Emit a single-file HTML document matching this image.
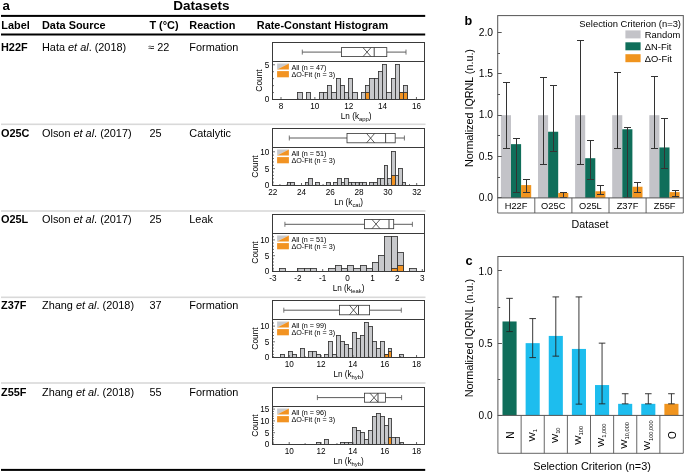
<!DOCTYPE html>
<html><head><meta charset="utf-8"><style>
html,body{margin:0;padding:0;background:#fff;}
svg{display:block;will-change:transform;}
text{font-family:"Liberation Sans", sans-serif;}
</style></head><body>
<svg width="685" height="473" viewBox="0 0 685 473" font-family='"Liberation Sans", sans-serif'>
<rect width="685" height="473" fill="#fff"/>
<text x="2.6" y="10.0" font-size="13.2" font-weight="bold" fill="#000">a</text>
<text x="201.3" y="10.4" font-size="13.5" font-weight="bold" text-anchor="middle" fill="#000">Datasets</text>
<rect x="1.00" y="14.90" width="424.20" height="2.00" fill="#000"/>
<text x="1.3" y="29.4" font-size="10.9" font-weight="bold" fill="#000">Label</text>
<text x="42" y="29.4" font-size="10.9" font-weight="bold" fill="#000">Data Source</text>
<text x="149.4" y="29.4" font-size="10.9" font-weight="bold" fill="#000">T (°C)</text>
<text x="189.3" y="29.4" font-size="10.9" font-weight="bold" fill="#000">Reaction</text>
<text x="256.8" y="29.4" font-size="10.9" font-weight="bold" fill="#000">Rate-Constant Histogram</text>
<rect x="1.00" y="33.50" width="424.20" height="2.00" fill="#000"/>
<rect x="1.00" y="468.90" width="424.20" height="2.00" fill="#000"/>
<rect x="1.00" y="123.50" width="424.50" height="1.60" fill="#d9d9d9"/>
<rect x="1.00" y="210.20" width="424.50" height="1.60" fill="#d9d9d9"/>
<rect x="1.00" y="296.50" width="424.50" height="1.60" fill="#d9d9d9"/>
<rect x="1.00" y="382.20" width="424.50" height="1.60" fill="#d9d9d9"/>
<text x="1.0" y="51.2" font-size="10.9" font-weight="bold" fill="#000">H22F</text>
<text x="42" y="51.2" font-size="10.9">Hata <tspan font-style="italic">et al</tspan>. (2018)</text>
<text x="148.6" y="51.2" font-size="10.9" fill="#000">≈</text>
<text x="157.2" y="51.2" font-size="10.9" fill="#000">22</text>
<text x="189.3" y="51.2" font-size="10.9" fill="#000">Formation</text>
<text x="1.0" y="137.0" font-size="10.9" font-weight="bold" fill="#000">O25C</text>
<text x="42" y="137.0" font-size="10.9">Olson <tspan font-style="italic">et al</tspan>. (2017)</text>
<text x="149.4" y="137.0" font-size="10.9" fill="#000">25</text>
<text x="189.3" y="137.0" font-size="10.9" fill="#000">Catalytic</text>
<text x="1.0" y="222.7" font-size="10.9" font-weight="bold" fill="#000">O25L</text>
<text x="42" y="222.7" font-size="10.9">Olson <tspan font-style="italic">et al</tspan>. (2017)</text>
<text x="149.4" y="222.7" font-size="10.9" fill="#000">25</text>
<text x="189.3" y="222.7" font-size="10.9" fill="#000">Leak</text>
<text x="1.0" y="309.2" font-size="10.9" font-weight="bold" fill="#000">Z37F</text>
<text x="42" y="309.2" font-size="10.9">Zhang <tspan font-style="italic">et al</tspan>. (2018)</text>
<text x="149.4" y="309.2" font-size="10.9" fill="#000">37</text>
<text x="189.3" y="309.2" font-size="10.9" fill="#000">Formation</text>
<text x="1.0" y="396.2" font-size="10.9" font-weight="bold" fill="#000">Z55F</text>
<text x="42" y="396.2" font-size="10.9">Zhang <tspan font-style="italic">et al</tspan>. (2018)</text>
<text x="149.4" y="396.2" font-size="10.9" fill="#000">55</text>
<text x="189.3" y="396.2" font-size="10.9" fill="#000">Formation</text>
<rect x="297.50" y="92.50" width="5.00" height="7.00" fill="#c8c9cc" stroke="#333" stroke-width="0.85"/>
<rect x="306.50" y="92.50" width="4.00" height="7.00" fill="#c8c9cc" stroke="#333" stroke-width="0.85"/>
<rect x="319.50" y="92.50" width="4.00" height="7.00" fill="#c8c9cc" stroke="#333" stroke-width="0.85"/>
<rect x="323.50" y="92.50" width="4.00" height="7.00" fill="#c8c9cc" stroke="#333" stroke-width="0.85"/>
<rect x="327.50" y="85.50" width="4.00" height="14.00" fill="#c8c9cc" stroke="#333" stroke-width="0.85"/>
<rect x="331.50" y="92.50" width="5.00" height="7.00" fill="#c8c9cc" stroke="#333" stroke-width="0.85"/>
<rect x="336.50" y="78.50" width="4.00" height="21.00" fill="#c8c9cc" stroke="#333" stroke-width="0.85"/>
<rect x="340.50" y="85.50" width="4.00" height="14.00" fill="#c8c9cc" stroke="#333" stroke-width="0.85"/>
<rect x="344.50" y="92.50" width="4.00" height="7.00" fill="#c8c9cc" stroke="#333" stroke-width="0.85"/>
<rect x="348.50" y="78.50" width="4.00" height="21.00" fill="#c8c9cc" stroke="#333" stroke-width="0.85"/>
<rect x="352.50" y="92.50" width="5.00" height="7.00" fill="#c8c9cc" stroke="#333" stroke-width="0.85"/>
<rect x="361.50" y="92.50" width="4.00" height="7.00" fill="#c8c9cc" stroke="#333" stroke-width="0.85"/>
<rect x="365.50" y="85.50" width="4.00" height="14.00" fill="#c8c9cc" stroke="#333" stroke-width="0.85"/>
<rect x="365.50" y="92.50" width="4.00" height="7.00" fill="#f29322" stroke="#333" stroke-width="0.85"/>
<rect x="369.50" y="78.50" width="5.00" height="21.00" fill="#c8c9cc" stroke="#333" stroke-width="0.85"/>
<rect x="374.50" y="78.50" width="4.00" height="21.00" fill="#c8c9cc" stroke="#333" stroke-width="0.85"/>
<rect x="378.50" y="71.50" width="4.00" height="28.00" fill="#c8c9cc" stroke="#333" stroke-width="0.85"/>
<rect x="382.50" y="64.50" width="4.00" height="35.00" fill="#c8c9cc" stroke="#333" stroke-width="0.85"/>
<rect x="386.50" y="92.50" width="5.00" height="7.00" fill="#c8c9cc" stroke="#333" stroke-width="0.85"/>
<rect x="391.50" y="78.50" width="4.00" height="21.00" fill="#c8c9cc" stroke="#333" stroke-width="0.85"/>
<rect x="395.50" y="64.50" width="4.00" height="35.00" fill="#c8c9cc" stroke="#333" stroke-width="0.85"/>
<rect x="399.50" y="92.50" width="4.00" height="7.00" fill="#c8c9cc" stroke="#333" stroke-width="0.85"/>
<rect x="399.50" y="92.50" width="4.00" height="7.00" fill="#f29322" stroke="#333" stroke-width="0.85"/>
<rect x="403.50" y="85.50" width="4.00" height="14.00" fill="#c8c9cc" stroke="#333" stroke-width="0.85"/>
<rect x="403.50" y="92.50" width="4.00" height="7.00" fill="#f29322" stroke="#333" stroke-width="0.85"/>
<rect x="272.5" y="42.5" width="152.0" height="57.0" fill="none" stroke="#3a3a3a" stroke-width="1"/>
<line x1="272.5" y1="61.5" x2="424.5" y2="61.5" stroke="#3a3a3a" stroke-width="1"/>
<line x1="302.3" y1="52.1" x2="341.4" y2="52.1" stroke="#4a4a4a" stroke-width="0.9"/>
<line x1="386.8" y1="52.1" x2="406" y2="52.1" stroke="#4a4a4a" stroke-width="0.9"/>
<line x1="302.3" y1="49.6" x2="302.3" y2="54.6" stroke="#555" stroke-width="0.8"/>
<line x1="406" y1="49.6" x2="406" y2="54.6" stroke="#555" stroke-width="0.8"/>
<rect x="341.4" y="47.6" width="45.400000000000034" height="9.0" fill="#fff" stroke="#333" stroke-width="0.8"/>
<line x1="374.2" y1="47.6" x2="374.2" y2="56.6" stroke="#333" stroke-width="0.9"/>
<line x1="363.0" y1="47.6" x2="371.0" y2="56.6" stroke="#333" stroke-width="0.8"/>
<line x1="363.0" y1="56.6" x2="371.0" y2="47.6" stroke="#333" stroke-width="0.8"/>
<line x1="272.5" y1="99.5" x2="275.0" y2="99.5" stroke="#3a3a3a" stroke-width="0.7"/>
<line x1="272.5" y1="92.55" x2="274.0" y2="92.55" stroke="#3a3a3a" stroke-width="0.7"/>
<line x1="272.5" y1="85.6" x2="274.0" y2="85.6" stroke="#3a3a3a" stroke-width="0.7"/>
<line x1="272.5" y1="78.65" x2="274.0" y2="78.65" stroke="#3a3a3a" stroke-width="0.7"/>
<line x1="272.5" y1="71.7" x2="274.0" y2="71.7" stroke="#3a3a3a" stroke-width="0.7"/>
<line x1="272.5" y1="64.75" x2="275.0" y2="64.75" stroke="#3a3a3a" stroke-width="0.7"/>
<text x="269.3" y="102.4" font-size="8.2" text-anchor="end" fill="#000">0</text>
<text x="269.3" y="67.65" font-size="8.2" text-anchor="end" fill="#000">5</text>
<line x1="281.0" y1="99.5" x2="281.0" y2="97.0" stroke="#3a3a3a" stroke-width="0.8"/>
<text x="281.0" y="109.0" font-size="8.2" text-anchor="middle" fill="#000">8</text>
<line x1="314.86" y1="99.5" x2="314.86" y2="97.0" stroke="#3a3a3a" stroke-width="0.8"/>
<text x="314.86" y="109.0" font-size="8.2" text-anchor="middle" fill="#000">10</text>
<line x1="348.72" y1="99.5" x2="348.72" y2="97.0" stroke="#3a3a3a" stroke-width="0.8"/>
<text x="348.72" y="109.0" font-size="8.2" text-anchor="middle" fill="#000">12</text>
<line x1="382.58" y1="99.5" x2="382.58" y2="97.0" stroke="#3a3a3a" stroke-width="0.8"/>
<text x="382.58" y="109.0" font-size="8.2" text-anchor="middle" fill="#000">14</text>
<line x1="416.44" y1="99.5" x2="416.44" y2="97.0" stroke="#3a3a3a" stroke-width="0.8"/>
<text x="416.44" y="109.0" font-size="8.2" text-anchor="middle" fill="#000">16</text>
<line x1="297.93" y1="99.5" x2="297.93" y2="98.0" stroke="#3a3a3a" stroke-width="0.7"/>
<line x1="331.79" y1="99.5" x2="331.79" y2="98.0" stroke="#3a3a3a" stroke-width="0.7"/>
<line x1="365.65" y1="99.5" x2="365.65" y2="98.0" stroke="#3a3a3a" stroke-width="0.7"/>
<line x1="399.51" y1="99.5" x2="399.51" y2="98.0" stroke="#3a3a3a" stroke-width="0.7"/>
<text transform="translate(262.3 80.5) rotate(-90)" font-size="8.4" text-anchor="middle">Count</text>
<text x="356.2" y="118.8" font-size="8.2" text-anchor="middle">Ln (k<tspan font-size="5.9" dy="2.2">app</tspan><tspan dy="-2.2">)</tspan></text>
<polygon points="277.1,63.5 288.9,63.5 277.1,69.5" fill="#c8c9cc"/>
<polygon points="288.9,63.5 288.9,69.5 277.1,69.5" fill="#f29322"/>
<rect x="277.10" y="71.10" width="11.80" height="6.20" fill="#f29322"/>
<text x="291.4" y="69.7" font-size="7.2" fill="#000">All (n = 47)</text>
<text x="291.4" y="77.2" font-size="7.2" fill="#000">ΔO-Fit (n = 3)</text>
<rect x="287.50" y="182.50" width="3.00" height="3.00" fill="#c8c9cc" stroke="#333" stroke-width="0.85"/>
<rect x="290.50" y="182.50" width="4.00" height="3.00" fill="#c8c9cc" stroke="#333" stroke-width="0.85"/>
<rect x="305.50" y="182.50" width="3.00" height="3.00" fill="#c8c9cc" stroke="#333" stroke-width="0.85"/>
<rect x="308.50" y="178.50" width="4.00" height="7.00" fill="#c8c9cc" stroke="#333" stroke-width="0.85"/>
<rect x="315.50" y="182.50" width="4.00" height="3.00" fill="#c8c9cc" stroke="#333" stroke-width="0.85"/>
<rect x="326.50" y="182.50" width="4.00" height="3.00" fill="#c8c9cc" stroke="#333" stroke-width="0.85"/>
<rect x="333.50" y="182.50" width="4.00" height="3.00" fill="#c8c9cc" stroke="#333" stroke-width="0.85"/>
<rect x="337.50" y="178.50" width="4.00" height="7.00" fill="#c8c9cc" stroke="#333" stroke-width="0.85"/>
<rect x="341.50" y="182.50" width="3.00" height="3.00" fill="#c8c9cc" stroke="#333" stroke-width="0.85"/>
<rect x="344.50" y="178.50" width="4.00" height="7.00" fill="#c8c9cc" stroke="#333" stroke-width="0.85"/>
<rect x="348.50" y="182.50" width="3.00" height="3.00" fill="#c8c9cc" stroke="#333" stroke-width="0.85"/>
<rect x="351.50" y="182.50" width="4.00" height="3.00" fill="#c8c9cc" stroke="#333" stroke-width="0.85"/>
<rect x="355.50" y="182.50" width="4.00" height="3.00" fill="#c8c9cc" stroke="#333" stroke-width="0.85"/>
<rect x="359.50" y="182.50" width="3.00" height="3.00" fill="#c8c9cc" stroke="#333" stroke-width="0.85"/>
<rect x="362.50" y="182.50" width="4.00" height="3.00" fill="#c8c9cc" stroke="#333" stroke-width="0.85"/>
<rect x="369.50" y="182.50" width="4.00" height="3.00" fill="#c8c9cc" stroke="#333" stroke-width="0.85"/>
<rect x="373.50" y="182.50" width="4.00" height="3.00" fill="#c8c9cc" stroke="#333" stroke-width="0.85"/>
<rect x="377.50" y="178.50" width="3.00" height="7.00" fill="#c8c9cc" stroke="#333" stroke-width="0.85"/>
<rect x="380.50" y="178.50" width="4.00" height="7.00" fill="#c8c9cc" stroke="#333" stroke-width="0.85"/>
<rect x="384.50" y="165.50" width="3.00" height="20.00" fill="#c8c9cc" stroke="#333" stroke-width="0.85"/>
<rect x="387.50" y="178.50" width="4.00" height="7.00" fill="#c8c9cc" stroke="#333" stroke-width="0.85"/>
<rect x="391.50" y="151.50" width="4.00" height="34.00" fill="#c8c9cc" stroke="#333" stroke-width="0.85"/>
<rect x="391.50" y="175.50" width="4.00" height="10.00" fill="#f29322" stroke="#333" stroke-width="0.85"/>
<rect x="395.50" y="175.50" width="3.00" height="10.00" fill="#c8c9cc" stroke="#333" stroke-width="0.85"/>
<rect x="398.50" y="168.50" width="4.00" height="17.00" fill="#c8c9cc" stroke="#333" stroke-width="0.85"/>
<rect x="402.50" y="182.50" width="3.00" height="3.00" fill="#c8c9cc" stroke="#333" stroke-width="0.85"/>
<rect x="272.5" y="128.5" width="152.0" height="57.0" fill="none" stroke="#3a3a3a" stroke-width="1"/>
<line x1="272.5" y1="147.5" x2="424.5" y2="147.5" stroke="#3a3a3a" stroke-width="1"/>
<line x1="289.3" y1="138" x2="347" y2="138" stroke="#4a4a4a" stroke-width="0.9"/>
<line x1="395.2" y1="138" x2="404.4" y2="138" stroke="#4a4a4a" stroke-width="0.9"/>
<line x1="289.3" y1="135.5" x2="289.3" y2="140.5" stroke="#555" stroke-width="0.8"/>
<line x1="404.4" y1="135.5" x2="404.4" y2="140.5" stroke="#555" stroke-width="0.8"/>
<rect x="347" y="133.5" width="48.19999999999999" height="9.300000000000011" fill="#fff" stroke="#333" stroke-width="0.8"/>
<line x1="385.6" y1="133.5" x2="385.6" y2="142.8" stroke="#333" stroke-width="0.9"/>
<line x1="366.6" y1="133.5" x2="374.6" y2="142.8" stroke="#333" stroke-width="0.8"/>
<line x1="366.6" y1="142.8" x2="374.6" y2="133.5" stroke="#333" stroke-width="0.8"/>
<line x1="272.5" y1="185.5" x2="275.0" y2="185.5" stroke="#3a3a3a" stroke-width="0.7"/>
<line x1="272.5" y1="182.13" x2="274.0" y2="182.13" stroke="#3a3a3a" stroke-width="0.7"/>
<line x1="272.5" y1="178.76" x2="274.0" y2="178.76" stroke="#3a3a3a" stroke-width="0.7"/>
<line x1="272.5" y1="175.39" x2="274.0" y2="175.39" stroke="#3a3a3a" stroke-width="0.7"/>
<line x1="272.5" y1="172.02" x2="274.0" y2="172.02" stroke="#3a3a3a" stroke-width="0.7"/>
<line x1="272.5" y1="168.65" x2="275.0" y2="168.65" stroke="#3a3a3a" stroke-width="0.7"/>
<line x1="272.5" y1="165.28" x2="274.0" y2="165.28" stroke="#3a3a3a" stroke-width="0.7"/>
<line x1="272.5" y1="161.91" x2="274.0" y2="161.91" stroke="#3a3a3a" stroke-width="0.7"/>
<line x1="272.5" y1="158.54" x2="274.0" y2="158.54" stroke="#3a3a3a" stroke-width="0.7"/>
<line x1="272.5" y1="155.17" x2="274.0" y2="155.17" stroke="#3a3a3a" stroke-width="0.7"/>
<line x1="272.5" y1="151.8" x2="275.0" y2="151.8" stroke="#3a3a3a" stroke-width="0.7"/>
<text x="269.3" y="188.4" font-size="8.2" text-anchor="end" fill="#000">0</text>
<text x="269.3" y="171.55" font-size="8.2" text-anchor="end" fill="#000">5</text>
<text x="269.3" y="154.70000000000002" font-size="8.2" text-anchor="end" fill="#000">10</text>
<line x1="272.7" y1="185.5" x2="272.7" y2="183.0" stroke="#3a3a3a" stroke-width="0.8"/>
<text x="272.7" y="195.0" font-size="8.2" text-anchor="middle" fill="#000">22</text>
<line x1="301.5" y1="185.5" x2="301.5" y2="183.0" stroke="#3a3a3a" stroke-width="0.8"/>
<text x="301.5" y="195.0" font-size="8.2" text-anchor="middle" fill="#000">24</text>
<line x1="330.3" y1="185.5" x2="330.3" y2="183.0" stroke="#3a3a3a" stroke-width="0.8"/>
<text x="330.3" y="195.0" font-size="8.2" text-anchor="middle" fill="#000">26</text>
<line x1="359.1" y1="185.5" x2="359.1" y2="183.0" stroke="#3a3a3a" stroke-width="0.8"/>
<text x="359.1" y="195.0" font-size="8.2" text-anchor="middle" fill="#000">28</text>
<line x1="387.9" y1="185.5" x2="387.9" y2="183.0" stroke="#3a3a3a" stroke-width="0.8"/>
<text x="387.9" y="195.0" font-size="8.2" text-anchor="middle" fill="#000">30</text>
<line x1="416.7" y1="185.5" x2="416.7" y2="183.0" stroke="#3a3a3a" stroke-width="0.8"/>
<text x="416.7" y="195.0" font-size="8.2" text-anchor="middle" fill="#000">32</text>
<line x1="279.9" y1="185.5" x2="279.9" y2="184.0" stroke="#3a3a3a" stroke-width="0.7"/>
<line x1="287.09999999999997" y1="185.5" x2="287.09999999999997" y2="184.0" stroke="#3a3a3a" stroke-width="0.7"/>
<line x1="294.3" y1="185.5" x2="294.3" y2="184.0" stroke="#3a3a3a" stroke-width="0.7"/>
<line x1="308.7" y1="185.5" x2="308.7" y2="184.0" stroke="#3a3a3a" stroke-width="0.7"/>
<line x1="315.9" y1="185.5" x2="315.9" y2="184.0" stroke="#3a3a3a" stroke-width="0.7"/>
<line x1="323.09999999999997" y1="185.5" x2="323.09999999999997" y2="184.0" stroke="#3a3a3a" stroke-width="0.7"/>
<line x1="337.5" y1="185.5" x2="337.5" y2="184.0" stroke="#3a3a3a" stroke-width="0.7"/>
<line x1="344.7" y1="185.5" x2="344.7" y2="184.0" stroke="#3a3a3a" stroke-width="0.7"/>
<line x1="351.9" y1="185.5" x2="351.9" y2="184.0" stroke="#3a3a3a" stroke-width="0.7"/>
<line x1="366.3" y1="185.5" x2="366.3" y2="184.0" stroke="#3a3a3a" stroke-width="0.7"/>
<line x1="373.5" y1="185.5" x2="373.5" y2="184.0" stroke="#3a3a3a" stroke-width="0.7"/>
<line x1="380.7" y1="185.5" x2="380.7" y2="184.0" stroke="#3a3a3a" stroke-width="0.7"/>
<line x1="395.1" y1="185.5" x2="395.1" y2="184.0" stroke="#3a3a3a" stroke-width="0.7"/>
<line x1="402.29999999999995" y1="185.5" x2="402.29999999999995" y2="184.0" stroke="#3a3a3a" stroke-width="0.7"/>
<line x1="409.5" y1="185.5" x2="409.5" y2="184.0" stroke="#3a3a3a" stroke-width="0.7"/>
<text transform="translate(258.3 166.5) rotate(-90)" font-size="8.4" text-anchor="middle">Count</text>
<text x="348.6" y="205.1" font-size="8.2" text-anchor="middle">Ln (k<tspan font-size="5.9" dy="2.2">cat</tspan><tspan dy="-2.2">)</tspan></text>
<polygon points="277.1,149.5 288.9,149.5 277.1,155.5" fill="#c8c9cc"/>
<polygon points="288.9,149.5 288.9,155.5 277.1,155.5" fill="#f29322"/>
<rect x="277.10" y="157.10" width="11.80" height="6.20" fill="#f29322"/>
<text x="291.4" y="155.7" font-size="7.2" fill="#000">All (n = 51)</text>
<text x="291.4" y="163.2" font-size="7.2" fill="#000">ΔO-Fit (n = 3)</text>
<rect x="279.50" y="268.50" width="6.00" height="3.00" fill="#c8c9cc" stroke="#333" stroke-width="0.85"/>
<rect x="297.50" y="268.50" width="7.00" height="3.00" fill="#c8c9cc" stroke="#333" stroke-width="0.85"/>
<rect x="304.50" y="268.50" width="6.00" height="3.00" fill="#c8c9cc" stroke="#333" stroke-width="0.85"/>
<rect x="310.50" y="268.50" width="6.00" height="3.00" fill="#c8c9cc" stroke="#333" stroke-width="0.85"/>
<rect x="328.50" y="268.50" width="7.00" height="3.00" fill="#c8c9cc" stroke="#333" stroke-width="0.85"/>
<rect x="335.50" y="265.50" width="6.00" height="6.00" fill="#c8c9cc" stroke="#333" stroke-width="0.85"/>
<rect x="341.50" y="268.50" width="6.00" height="3.00" fill="#c8c9cc" stroke="#333" stroke-width="0.85"/>
<rect x="347.50" y="265.50" width="6.00" height="6.00" fill="#c8c9cc" stroke="#333" stroke-width="0.85"/>
<rect x="353.50" y="268.50" width="7.00" height="3.00" fill="#c8c9cc" stroke="#333" stroke-width="0.85"/>
<rect x="360.50" y="265.50" width="6.00" height="6.00" fill="#c8c9cc" stroke="#333" stroke-width="0.85"/>
<rect x="366.50" y="268.50" width="6.00" height="3.00" fill="#c8c9cc" stroke="#333" stroke-width="0.85"/>
<rect x="372.50" y="262.50" width="6.00" height="9.00" fill="#c8c9cc" stroke="#333" stroke-width="0.85"/>
<rect x="378.50" y="255.50" width="6.00" height="16.00" fill="#c8c9cc" stroke="#333" stroke-width="0.85"/>
<rect x="384.50" y="236.50" width="7.00" height="35.00" fill="#c8c9cc" stroke="#333" stroke-width="0.85"/>
<rect x="391.50" y="236.50" width="6.00" height="35.00" fill="#c8c9cc" stroke="#333" stroke-width="0.85"/>
<rect x="391.50" y="268.50" width="6.00" height="3.00" fill="#f29322" stroke="#333" stroke-width="0.85"/>
<rect x="397.50" y="252.50" width="6.00" height="19.00" fill="#c8c9cc" stroke="#333" stroke-width="0.85"/>
<rect x="397.50" y="265.50" width="6.00" height="6.00" fill="#f29322" stroke="#333" stroke-width="0.85"/>
<rect x="409.50" y="268.50" width="7.00" height="3.00" fill="#c8c9cc" stroke="#333" stroke-width="0.85"/>
<rect x="272.5" y="214.5" width="152.0" height="57.0" fill="none" stroke="#3a3a3a" stroke-width="1"/>
<line x1="272.5" y1="233.5" x2="424.5" y2="233.5" stroke="#3a3a3a" stroke-width="1"/>
<line x1="284.9" y1="224.3" x2="364.5" y2="224.3" stroke="#4a4a4a" stroke-width="0.9"/>
<line x1="393.7" y1="224.3" x2="412.4" y2="224.3" stroke="#4a4a4a" stroke-width="0.9"/>
<line x1="284.9" y1="221.8" x2="284.9" y2="226.8" stroke="#555" stroke-width="0.8"/>
<line x1="412.4" y1="221.8" x2="412.4" y2="226.8" stroke="#555" stroke-width="0.8"/>
<rect x="364.5" y="219.5" width="29.19999999999999" height="9.199999999999989" fill="#fff" stroke="#333" stroke-width="0.8"/>
<line x1="389" y1="219.5" x2="389" y2="228.7" stroke="#333" stroke-width="0.9"/>
<line x1="372.0" y1="219.5" x2="380.0" y2="228.7" stroke="#333" stroke-width="0.8"/>
<line x1="372.0" y1="228.7" x2="380.0" y2="219.5" stroke="#333" stroke-width="0.8"/>
<line x1="272.5" y1="271.5" x2="275.0" y2="271.5" stroke="#3a3a3a" stroke-width="0.7"/>
<line x1="272.5" y1="268.34" x2="274.0" y2="268.34" stroke="#3a3a3a" stroke-width="0.7"/>
<line x1="272.5" y1="265.18" x2="274.0" y2="265.18" stroke="#3a3a3a" stroke-width="0.7"/>
<line x1="272.5" y1="262.02" x2="274.0" y2="262.02" stroke="#3a3a3a" stroke-width="0.7"/>
<line x1="272.5" y1="258.86" x2="274.0" y2="258.86" stroke="#3a3a3a" stroke-width="0.7"/>
<line x1="272.5" y1="255.7" x2="275.0" y2="255.7" stroke="#3a3a3a" stroke-width="0.7"/>
<line x1="272.5" y1="252.54" x2="274.0" y2="252.54" stroke="#3a3a3a" stroke-width="0.7"/>
<line x1="272.5" y1="249.38" x2="274.0" y2="249.38" stroke="#3a3a3a" stroke-width="0.7"/>
<line x1="272.5" y1="246.22" x2="274.0" y2="246.22" stroke="#3a3a3a" stroke-width="0.7"/>
<line x1="272.5" y1="243.06" x2="274.0" y2="243.06" stroke="#3a3a3a" stroke-width="0.7"/>
<line x1="272.5" y1="239.9" x2="275.0" y2="239.9" stroke="#3a3a3a" stroke-width="0.7"/>
<line x1="272.5" y1="236.74" x2="274.0" y2="236.74" stroke="#3a3a3a" stroke-width="0.7"/>
<text x="269.3" y="274.4" font-size="8.2" text-anchor="end" fill="#000">0</text>
<text x="269.3" y="258.59999999999997" font-size="8.2" text-anchor="end" fill="#000">5</text>
<text x="269.3" y="242.8" font-size="8.2" text-anchor="end" fill="#000">10</text>
<line x1="272.90000000000003" y1="271.5" x2="272.90000000000003" y2="269.0" stroke="#3a3a3a" stroke-width="0.8"/>
<text x="272.90000000000003" y="281.0" font-size="8.2" text-anchor="middle" fill="#000">-3</text>
<line x1="297.8" y1="271.5" x2="297.8" y2="269.0" stroke="#3a3a3a" stroke-width="0.8"/>
<text x="297.8" y="281.0" font-size="8.2" text-anchor="middle" fill="#000">-2</text>
<line x1="322.70000000000005" y1="271.5" x2="322.70000000000005" y2="269.0" stroke="#3a3a3a" stroke-width="0.8"/>
<text x="322.70000000000005" y="281.0" font-size="8.2" text-anchor="middle" fill="#000">-1</text>
<line x1="347.6" y1="271.5" x2="347.6" y2="269.0" stroke="#3a3a3a" stroke-width="0.8"/>
<text x="347.6" y="281.0" font-size="8.2" text-anchor="middle" fill="#000">0</text>
<line x1="372.5" y1="271.5" x2="372.5" y2="269.0" stroke="#3a3a3a" stroke-width="0.8"/>
<text x="372.5" y="281.0" font-size="8.2" text-anchor="middle" fill="#000">1</text>
<line x1="397.40000000000003" y1="271.5" x2="397.40000000000003" y2="269.0" stroke="#3a3a3a" stroke-width="0.8"/>
<text x="397.40000000000003" y="281.0" font-size="8.2" text-anchor="middle" fill="#000">2</text>
<line x1="422.3" y1="271.5" x2="422.3" y2="269.0" stroke="#3a3a3a" stroke-width="0.8"/>
<text x="422.3" y="281.0" font-size="8.2" text-anchor="middle" fill="#000">3</text>
<text transform="translate(258.3 252.5) rotate(-90)" font-size="8.4" text-anchor="middle">Count</text>
<text x="348.6" y="291.1" font-size="8.2" text-anchor="middle">Ln (k<tspan font-size="5.9" dy="2.2">leak</tspan><tspan dy="-2.2">)</tspan></text>
<polygon points="277.1,235.5 288.9,235.5 277.1,241.5" fill="#c8c9cc"/>
<polygon points="288.9,235.5 288.9,241.5 277.1,241.5" fill="#f29322"/>
<rect x="277.10" y="243.10" width="11.80" height="6.20" fill="#f29322"/>
<text x="291.4" y="241.7" font-size="7.2" fill="#000">All (n = 51)</text>
<text x="291.4" y="249.2" font-size="7.2" fill="#000">ΔO-Fit (n = 3)</text>
<rect x="280.50" y="354.50" width="4.00" height="3.00" fill="#c8c9cc" stroke="#333" stroke-width="0.85"/>
<rect x="288.50" y="351.50" width="4.00" height="6.00" fill="#c8c9cc" stroke="#333" stroke-width="0.85"/>
<rect x="292.50" y="354.50" width="4.00" height="3.00" fill="#c8c9cc" stroke="#333" stroke-width="0.85"/>
<rect x="300.50" y="348.50" width="4.00" height="9.00" fill="#c8c9cc" stroke="#333" stroke-width="0.85"/>
<rect x="308.50" y="351.50" width="4.00" height="6.00" fill="#c8c9cc" stroke="#333" stroke-width="0.85"/>
<rect x="312.50" y="351.50" width="4.00" height="6.00" fill="#c8c9cc" stroke="#333" stroke-width="0.85"/>
<rect x="316.50" y="354.50" width="4.00" height="3.00" fill="#c8c9cc" stroke="#333" stroke-width="0.85"/>
<rect x="324.50" y="354.50" width="4.00" height="3.00" fill="#c8c9cc" stroke="#333" stroke-width="0.85"/>
<rect x="328.50" y="341.50" width="4.00" height="16.00" fill="#c8c9cc" stroke="#333" stroke-width="0.85"/>
<rect x="332.50" y="354.50" width="4.00" height="3.00" fill="#c8c9cc" stroke="#333" stroke-width="0.85"/>
<rect x="336.50" y="335.50" width="4.00" height="22.00" fill="#c8c9cc" stroke="#333" stroke-width="0.85"/>
<rect x="340.50" y="341.50" width="4.00" height="16.00" fill="#c8c9cc" stroke="#333" stroke-width="0.85"/>
<rect x="344.50" y="344.50" width="4.00" height="13.00" fill="#c8c9cc" stroke="#333" stroke-width="0.85"/>
<rect x="348.50" y="348.50" width="4.00" height="9.00" fill="#c8c9cc" stroke="#333" stroke-width="0.85"/>
<rect x="352.50" y="332.50" width="4.00" height="25.00" fill="#c8c9cc" stroke="#333" stroke-width="0.85"/>
<rect x="356.50" y="338.50" width="4.00" height="19.00" fill="#c8c9cc" stroke="#333" stroke-width="0.85"/>
<rect x="360.50" y="335.50" width="4.00" height="22.00" fill="#c8c9cc" stroke="#333" stroke-width="0.85"/>
<rect x="364.50" y="322.50" width="4.00" height="35.00" fill="#c8c9cc" stroke="#333" stroke-width="0.85"/>
<rect x="368.50" y="326.50" width="4.00" height="31.00" fill="#c8c9cc" stroke="#333" stroke-width="0.85"/>
<rect x="372.50" y="341.50" width="4.00" height="16.00" fill="#c8c9cc" stroke="#333" stroke-width="0.85"/>
<rect x="376.50" y="348.50" width="4.00" height="9.00" fill="#c8c9cc" stroke="#333" stroke-width="0.85"/>
<rect x="380.50" y="341.50" width="4.00" height="16.00" fill="#c8c9cc" stroke="#333" stroke-width="0.85"/>
<rect x="384.50" y="354.50" width="4.00" height="3.00" fill="#c8c9cc" stroke="#333" stroke-width="0.85"/>
<rect x="384.50" y="354.50" width="4.00" height="3.00" fill="#f29322" stroke="#333" stroke-width="0.85"/>
<rect x="388.50" y="348.50" width="3.00" height="9.00" fill="#c8c9cc" stroke="#333" stroke-width="0.85"/>
<rect x="388.50" y="351.50" width="3.00" height="6.00" fill="#f29322" stroke="#333" stroke-width="0.85"/>
<rect x="399.50" y="354.50" width="4.00" height="3.00" fill="#c8c9cc" stroke="#333" stroke-width="0.85"/>
<rect x="272.5" y="300.5" width="152.0" height="57.0" fill="none" stroke="#3a3a3a" stroke-width="1"/>
<line x1="272.5" y1="319.5" x2="424.5" y2="319.5" stroke="#3a3a3a" stroke-width="1"/>
<line x1="283.8" y1="310.2" x2="339.5" y2="310.2" stroke="#4a4a4a" stroke-width="0.9"/>
<line x1="369.6" y1="310.2" x2="401.3" y2="310.2" stroke="#4a4a4a" stroke-width="0.9"/>
<line x1="283.8" y1="307.7" x2="283.8" y2="312.7" stroke="#555" stroke-width="0.8"/>
<line x1="401.3" y1="307.7" x2="401.3" y2="312.7" stroke="#555" stroke-width="0.8"/>
<rect x="339.5" y="305.3" width="30.100000000000023" height="9.5" fill="#fff" stroke="#333" stroke-width="0.8"/>
<line x1="358.5" y1="305.3" x2="358.5" y2="314.8" stroke="#333" stroke-width="0.9"/>
<line x1="349.5" y1="305.3" x2="357.5" y2="314.8" stroke="#333" stroke-width="0.8"/>
<line x1="349.5" y1="314.8" x2="357.5" y2="305.3" stroke="#333" stroke-width="0.8"/>
<line x1="272.5" y1="357.5" x2="275.0" y2="357.5" stroke="#3a3a3a" stroke-width="0.7"/>
<line x1="272.5" y1="354.36" x2="274.0" y2="354.36" stroke="#3a3a3a" stroke-width="0.7"/>
<line x1="272.5" y1="351.22" x2="274.0" y2="351.22" stroke="#3a3a3a" stroke-width="0.7"/>
<line x1="272.5" y1="348.08" x2="274.0" y2="348.08" stroke="#3a3a3a" stroke-width="0.7"/>
<line x1="272.5" y1="344.94" x2="274.0" y2="344.94" stroke="#3a3a3a" stroke-width="0.7"/>
<line x1="272.5" y1="341.8" x2="275.0" y2="341.8" stroke="#3a3a3a" stroke-width="0.7"/>
<line x1="272.5" y1="338.66" x2="274.0" y2="338.66" stroke="#3a3a3a" stroke-width="0.7"/>
<line x1="272.5" y1="335.52" x2="274.0" y2="335.52" stroke="#3a3a3a" stroke-width="0.7"/>
<line x1="272.5" y1="332.38" x2="274.0" y2="332.38" stroke="#3a3a3a" stroke-width="0.7"/>
<line x1="272.5" y1="329.24" x2="274.0" y2="329.24" stroke="#3a3a3a" stroke-width="0.7"/>
<line x1="272.5" y1="326.1" x2="275.0" y2="326.1" stroke="#3a3a3a" stroke-width="0.7"/>
<line x1="272.5" y1="322.96" x2="274.0" y2="322.96" stroke="#3a3a3a" stroke-width="0.7"/>
<text x="269.3" y="360.4" font-size="8.2" text-anchor="end" fill="#000">0</text>
<text x="269.3" y="344.7" font-size="8.2" text-anchor="end" fill="#000">5</text>
<text x="269.3" y="329.0" font-size="8.2" text-anchor="end" fill="#000">10</text>
<line x1="289.2" y1="357.5" x2="289.2" y2="355.0" stroke="#3a3a3a" stroke-width="0.8"/>
<text x="289.2" y="367.0" font-size="8.2" text-anchor="middle" fill="#000">10</text>
<line x1="321.03999999999996" y1="357.5" x2="321.03999999999996" y2="355.0" stroke="#3a3a3a" stroke-width="0.8"/>
<text x="321.03999999999996" y="367.0" font-size="8.2" text-anchor="middle" fill="#000">12</text>
<line x1="352.88" y1="357.5" x2="352.88" y2="355.0" stroke="#3a3a3a" stroke-width="0.8"/>
<text x="352.88" y="367.0" font-size="8.2" text-anchor="middle" fill="#000">14</text>
<line x1="384.71999999999997" y1="357.5" x2="384.71999999999997" y2="355.0" stroke="#3a3a3a" stroke-width="0.8"/>
<text x="384.71999999999997" y="367.0" font-size="8.2" text-anchor="middle" fill="#000">16</text>
<line x1="416.56" y1="357.5" x2="416.56" y2="355.0" stroke="#3a3a3a" stroke-width="0.8"/>
<text x="416.56" y="367.0" font-size="8.2" text-anchor="middle" fill="#000">18</text>
<line x1="273.28" y1="357.5" x2="273.28" y2="356.0" stroke="#3a3a3a" stroke-width="0.7"/>
<line x1="305.12" y1="357.5" x2="305.12" y2="356.0" stroke="#3a3a3a" stroke-width="0.7"/>
<line x1="336.96" y1="357.5" x2="336.96" y2="356.0" stroke="#3a3a3a" stroke-width="0.7"/>
<line x1="368.79999999999995" y1="357.5" x2="368.79999999999995" y2="356.0" stroke="#3a3a3a" stroke-width="0.7"/>
<line x1="400.64" y1="357.5" x2="400.64" y2="356.0" stroke="#3a3a3a" stroke-width="0.7"/>
<text transform="translate(258.3 338.5) rotate(-90)" font-size="8.4" text-anchor="middle">Count</text>
<text x="348.6" y="377.1" font-size="8.2" text-anchor="middle">Ln (k<tspan font-size="5.9" dy="2.2">hyb</tspan><tspan dy="-2.2">)</tspan></text>
<polygon points="277.1,321.5 288.9,321.5 277.1,327.5" fill="#c8c9cc"/>
<polygon points="288.9,321.5 288.9,327.5 277.1,327.5" fill="#f29322"/>
<rect x="277.10" y="329.10" width="11.80" height="6.20" fill="#f29322"/>
<text x="291.4" y="327.7" font-size="7.2" fill="#000">All (n = 99)</text>
<text x="291.4" y="335.2" font-size="7.2" fill="#000">ΔO-Fit (n = 3)</text>
<rect x="316.50" y="442.50" width="4.00" height="2.00" fill="#c8c9cc" stroke="#333" stroke-width="0.85"/>
<rect x="324.50" y="439.50" width="4.00" height="5.00" fill="#c8c9cc" stroke="#333" stroke-width="0.85"/>
<rect x="340.50" y="442.50" width="4.00" height="2.00" fill="#c8c9cc" stroke="#333" stroke-width="0.85"/>
<rect x="344.50" y="442.50" width="4.00" height="2.00" fill="#c8c9cc" stroke="#333" stroke-width="0.85"/>
<rect x="348.50" y="442.50" width="4.00" height="2.00" fill="#c8c9cc" stroke="#333" stroke-width="0.85"/>
<rect x="352.50" y="427.50" width="4.00" height="17.00" fill="#c8c9cc" stroke="#333" stroke-width="0.85"/>
<rect x="356.50" y="430.50" width="4.00" height="14.00" fill="#c8c9cc" stroke="#333" stroke-width="0.85"/>
<rect x="360.50" y="432.50" width="4.00" height="12.00" fill="#c8c9cc" stroke="#333" stroke-width="0.85"/>
<rect x="364.50" y="439.50" width="4.00" height="5.00" fill="#c8c9cc" stroke="#333" stroke-width="0.85"/>
<rect x="368.50" y="430.50" width="4.00" height="14.00" fill="#c8c9cc" stroke="#333" stroke-width="0.85"/>
<rect x="372.50" y="416.50" width="4.00" height="28.00" fill="#c8c9cc" stroke="#333" stroke-width="0.85"/>
<rect x="376.50" y="413.50" width="4.00" height="31.00" fill="#c8c9cc" stroke="#333" stroke-width="0.85"/>
<rect x="380.50" y="416.50" width="4.00" height="28.00" fill="#c8c9cc" stroke="#333" stroke-width="0.85"/>
<rect x="384.50" y="425.50" width="4.00" height="19.00" fill="#c8c9cc" stroke="#333" stroke-width="0.85"/>
<rect x="388.50" y="418.50" width="3.00" height="26.00" fill="#c8c9cc" stroke="#333" stroke-width="0.85"/>
<rect x="388.50" y="437.50" width="3.00" height="7.00" fill="#f29322" stroke="#333" stroke-width="0.85"/>
<rect x="391.50" y="437.50" width="4.00" height="7.00" fill="#c8c9cc" stroke="#333" stroke-width="0.85"/>
<rect x="395.50" y="437.50" width="4.00" height="7.00" fill="#c8c9cc" stroke="#333" stroke-width="0.85"/>
<rect x="399.50" y="442.50" width="4.00" height="2.00" fill="#c8c9cc" stroke="#333" stroke-width="0.85"/>
<rect x="272.5" y="387.5" width="152.0" height="57.0" fill="none" stroke="#3a3a3a" stroke-width="1"/>
<line x1="272.5" y1="406.5" x2="424.5" y2="406.5" stroke="#3a3a3a" stroke-width="1"/>
<line x1="317.4" y1="397.6" x2="364.5" y2="397.6" stroke="#4a4a4a" stroke-width="0.9"/>
<line x1="385.5" y1="397.6" x2="401.6" y2="397.6" stroke="#4a4a4a" stroke-width="0.9"/>
<line x1="317.4" y1="395.1" x2="317.4" y2="400.1" stroke="#555" stroke-width="0.8"/>
<line x1="401.6" y1="395.1" x2="401.6" y2="400.1" stroke="#555" stroke-width="0.8"/>
<rect x="364.5" y="393.2" width="21.0" height="9.0" fill="#fff" stroke="#333" stroke-width="0.8"/>
<line x1="378" y1="393.2" x2="378" y2="402.2" stroke="#333" stroke-width="0.9"/>
<line x1="370.0" y1="393.2" x2="378.0" y2="402.2" stroke="#333" stroke-width="0.8"/>
<line x1="370.0" y1="402.2" x2="378.0" y2="393.2" stroke="#333" stroke-width="0.8"/>
<line x1="272.5" y1="444.5" x2="275.0" y2="444.5" stroke="#3a3a3a" stroke-width="0.7"/>
<line x1="272.5" y1="442.14" x2="274.0" y2="442.14" stroke="#3a3a3a" stroke-width="0.7"/>
<line x1="272.5" y1="439.78" x2="274.0" y2="439.78" stroke="#3a3a3a" stroke-width="0.7"/>
<line x1="272.5" y1="437.42" x2="274.0" y2="437.42" stroke="#3a3a3a" stroke-width="0.7"/>
<line x1="272.5" y1="435.06" x2="274.0" y2="435.06" stroke="#3a3a3a" stroke-width="0.7"/>
<line x1="272.5" y1="432.7" x2="275.0" y2="432.7" stroke="#3a3a3a" stroke-width="0.7"/>
<line x1="272.5" y1="430.34" x2="274.0" y2="430.34" stroke="#3a3a3a" stroke-width="0.7"/>
<line x1="272.5" y1="427.98" x2="274.0" y2="427.98" stroke="#3a3a3a" stroke-width="0.7"/>
<line x1="272.5" y1="425.62" x2="274.0" y2="425.62" stroke="#3a3a3a" stroke-width="0.7"/>
<line x1="272.5" y1="423.26" x2="274.0" y2="423.26" stroke="#3a3a3a" stroke-width="0.7"/>
<line x1="272.5" y1="420.9" x2="275.0" y2="420.9" stroke="#3a3a3a" stroke-width="0.7"/>
<line x1="272.5" y1="418.54" x2="274.0" y2="418.54" stroke="#3a3a3a" stroke-width="0.7"/>
<line x1="272.5" y1="416.18" x2="274.0" y2="416.18" stroke="#3a3a3a" stroke-width="0.7"/>
<line x1="272.5" y1="413.82" x2="274.0" y2="413.82" stroke="#3a3a3a" stroke-width="0.7"/>
<line x1="272.5" y1="411.46" x2="274.0" y2="411.46" stroke="#3a3a3a" stroke-width="0.7"/>
<line x1="272.5" y1="409.1" x2="275.0" y2="409.1" stroke="#3a3a3a" stroke-width="0.7"/>
<line x1="272.5" y1="406.74" x2="274.0" y2="406.74" stroke="#3a3a3a" stroke-width="0.7"/>
<text x="269.3" y="447.4" font-size="8.2" text-anchor="end" fill="#000">0</text>
<text x="269.3" y="435.59999999999997" font-size="8.2" text-anchor="end" fill="#000">5</text>
<text x="269.3" y="423.79999999999995" font-size="8.2" text-anchor="end" fill="#000">10</text>
<text x="269.3" y="412.0" font-size="8.2" text-anchor="end" fill="#000">15</text>
<line x1="289.2" y1="444.5" x2="289.2" y2="442.0" stroke="#3a3a3a" stroke-width="0.8"/>
<text x="289.2" y="454.0" font-size="8.2" text-anchor="middle" fill="#000">10</text>
<line x1="321.03999999999996" y1="444.5" x2="321.03999999999996" y2="442.0" stroke="#3a3a3a" stroke-width="0.8"/>
<text x="321.03999999999996" y="454.0" font-size="8.2" text-anchor="middle" fill="#000">12</text>
<line x1="352.88" y1="444.5" x2="352.88" y2="442.0" stroke="#3a3a3a" stroke-width="0.8"/>
<text x="352.88" y="454.0" font-size="8.2" text-anchor="middle" fill="#000">14</text>
<line x1="384.71999999999997" y1="444.5" x2="384.71999999999997" y2="442.0" stroke="#3a3a3a" stroke-width="0.8"/>
<text x="384.71999999999997" y="454.0" font-size="8.2" text-anchor="middle" fill="#000">16</text>
<line x1="416.56" y1="444.5" x2="416.56" y2="442.0" stroke="#3a3a3a" stroke-width="0.8"/>
<text x="416.56" y="454.0" font-size="8.2" text-anchor="middle" fill="#000">18</text>
<line x1="273.28" y1="444.5" x2="273.28" y2="443.0" stroke="#3a3a3a" stroke-width="0.7"/>
<line x1="305.12" y1="444.5" x2="305.12" y2="443.0" stroke="#3a3a3a" stroke-width="0.7"/>
<line x1="336.96" y1="444.5" x2="336.96" y2="443.0" stroke="#3a3a3a" stroke-width="0.7"/>
<line x1="368.79999999999995" y1="444.5" x2="368.79999999999995" y2="443.0" stroke="#3a3a3a" stroke-width="0.7"/>
<line x1="400.64" y1="444.5" x2="400.64" y2="443.0" stroke="#3a3a3a" stroke-width="0.7"/>
<text transform="translate(258.3 425.5) rotate(-90)" font-size="8.4" text-anchor="middle">Count</text>
<text x="348.6" y="464.1" font-size="8.2" text-anchor="middle">Ln (k<tspan font-size="5.9" dy="2.2">hyb</tspan><tspan dy="-2.2">)</tspan></text>
<polygon points="277.1,408.5 288.9,408.5 277.1,414.5" fill="#c8c9cc"/>
<polygon points="288.9,408.5 288.9,414.5 277.1,414.5" fill="#f29322"/>
<rect x="277.10" y="416.10" width="11.80" height="6.20" fill="#f29322"/>
<text x="291.4" y="414.7" font-size="7.2" fill="#000">All (n = 96)</text>
<text x="291.4" y="422.2" font-size="7.2" fill="#000">ΔO-Fit (n = 3)</text>
<text x="464.6" y="25.1" font-size="12.6" font-weight="bold" fill="#000">b</text>
<rect x="500.90" y="115.20" width="10.10" height="82.70" fill="#c3c3c8"/>
<rect x="511.00" y="144.15" width="10.10" height="53.75" fill="#0f6e5a"/>
<rect x="521.10" y="185.08" width="10.10" height="12.82" fill="#f0941e"/>
<line x1="506.5" y1="148.5" x2="506.5" y2="82.5" stroke="#333" stroke-width="1"/>
<line x1="503.0" y1="148.5" x2="510.0" y2="148.5" stroke="#333" stroke-width="1"/>
<line x1="503.0" y1="82.5" x2="510.0" y2="82.5" stroke="#333" stroke-width="1"/>
<line x1="516.5" y1="192.5" x2="516.5" y2="138.5" stroke="#333" stroke-width="1"/>
<line x1="513.0" y1="192.5" x2="520.0" y2="192.5" stroke="#333" stroke-width="1"/>
<line x1="513.0" y1="138.5" x2="520.0" y2="138.5" stroke="#333" stroke-width="1"/>
<line x1="526.5" y1="192.5" x2="526.5" y2="179.5" stroke="#333" stroke-width="1"/>
<line x1="523.0" y1="192.5" x2="530.0" y2="192.5" stroke="#333" stroke-width="1"/>
<line x1="523.0" y1="179.5" x2="530.0" y2="179.5" stroke="#333" stroke-width="1"/>
<text x="516.1" y="208.8" font-size="9.3" text-anchor="middle" fill="#000">H22F</text>
<rect x="538.00" y="115.20" width="10.10" height="82.70" fill="#c3c3c8"/>
<rect x="548.10" y="131.74" width="10.10" height="66.16" fill="#0f6e5a"/>
<rect x="558.20" y="192.94" width="10.10" height="4.96" fill="#f0941e"/>
<line x1="543.5" y1="164.5" x2="543.5" y2="77.5" stroke="#333" stroke-width="1"/>
<line x1="540.0" y1="164.5" x2="547.0" y2="164.5" stroke="#333" stroke-width="1"/>
<line x1="540.0" y1="77.5" x2="547.0" y2="77.5" stroke="#333" stroke-width="1"/>
<line x1="553.5" y1="151.5" x2="553.5" y2="85.5" stroke="#333" stroke-width="1"/>
<line x1="550.0" y1="151.5" x2="557.0" y2="151.5" stroke="#333" stroke-width="1"/>
<line x1="550.0" y1="85.5" x2="557.0" y2="85.5" stroke="#333" stroke-width="1"/>
<line x1="563.5" y1="197.5" x2="563.5" y2="192.5" stroke="#333" stroke-width="1"/>
<line x1="560.0" y1="197.5" x2="567.0" y2="197.5" stroke="#333" stroke-width="1"/>
<line x1="560.0" y1="192.5" x2="567.0" y2="192.5" stroke="#333" stroke-width="1"/>
<text x="553.25" y="208.8" font-size="9.3" text-anchor="middle" fill="#000">O25C</text>
<rect x="575.10" y="115.20" width="10.10" height="82.70" fill="#c3c3c8"/>
<rect x="585.20" y="158.20" width="10.10" height="39.70" fill="#0f6e5a"/>
<rect x="595.30" y="191.28" width="10.10" height="6.62" fill="#f0941e"/>
<line x1="580.5" y1="164.5" x2="580.5" y2="40.5" stroke="#333" stroke-width="1"/>
<line x1="577.0" y1="164.5" x2="584.0" y2="164.5" stroke="#333" stroke-width="1"/>
<line x1="577.0" y1="40.5" x2="584.0" y2="40.5" stroke="#333" stroke-width="1"/>
<line x1="590.5" y1="179.5" x2="590.5" y2="140.5" stroke="#333" stroke-width="1"/>
<line x1="587.0" y1="179.5" x2="594.0" y2="179.5" stroke="#333" stroke-width="1"/>
<line x1="587.0" y1="140.5" x2="594.0" y2="140.5" stroke="#333" stroke-width="1"/>
<line x1="600.5" y1="194.5" x2="600.5" y2="185.5" stroke="#333" stroke-width="1"/>
<line x1="597.0" y1="194.5" x2="604.0" y2="194.5" stroke="#333" stroke-width="1"/>
<line x1="597.0" y1="185.5" x2="604.0" y2="185.5" stroke="#333" stroke-width="1"/>
<text x="590.4" y="208.8" font-size="9.3" text-anchor="middle" fill="#000">O25L</text>
<rect x="612.20" y="115.20" width="10.10" height="82.70" fill="#c3c3c8"/>
<rect x="622.30" y="129.26" width="10.10" height="68.64" fill="#0f6e5a"/>
<rect x="632.40" y="186.74" width="10.10" height="11.16" fill="#f0941e"/>
<line x1="617.5" y1="148.5" x2="617.5" y2="72.5" stroke="#333" stroke-width="1"/>
<line x1="614.0" y1="148.5" x2="621.0" y2="148.5" stroke="#333" stroke-width="1"/>
<line x1="614.0" y1="72.5" x2="621.0" y2="72.5" stroke="#333" stroke-width="1"/>
<line x1="627.5" y1="197.5" x2="627.5" y2="127.5" stroke="#333" stroke-width="1"/>
<line x1="624.0" y1="197.5" x2="631.0" y2="197.5" stroke="#333" stroke-width="1"/>
<line x1="624.0" y1="127.5" x2="631.0" y2="127.5" stroke="#333" stroke-width="1"/>
<line x1="637.5" y1="192.5" x2="637.5" y2="182.5" stroke="#333" stroke-width="1"/>
<line x1="634.0" y1="192.5" x2="641.0" y2="192.5" stroke="#333" stroke-width="1"/>
<line x1="634.0" y1="182.5" x2="641.0" y2="182.5" stroke="#333" stroke-width="1"/>
<text x="627.5500000000001" y="208.8" font-size="9.3" text-anchor="middle" fill="#000">Z37F</text>
<rect x="649.30" y="115.20" width="10.10" height="82.70" fill="#c3c3c8"/>
<rect x="659.40" y="147.45" width="10.10" height="50.45" fill="#0f6e5a"/>
<rect x="669.50" y="192.11" width="10.10" height="5.79" fill="#f0941e"/>
<line x1="654.5" y1="148.5" x2="654.5" y2="76.5" stroke="#333" stroke-width="1"/>
<line x1="651.0" y1="148.5" x2="658.0" y2="148.5" stroke="#333" stroke-width="1"/>
<line x1="651.0" y1="76.5" x2="658.0" y2="76.5" stroke="#333" stroke-width="1"/>
<line x1="664.5" y1="168.5" x2="664.5" y2="118.5" stroke="#333" stroke-width="1"/>
<line x1="661.0" y1="168.5" x2="668.0" y2="168.5" stroke="#333" stroke-width="1"/>
<line x1="661.0" y1="118.5" x2="668.0" y2="118.5" stroke="#333" stroke-width="1"/>
<line x1="675.5" y1="196.5" x2="675.5" y2="190.5" stroke="#333" stroke-width="1"/>
<line x1="672.0" y1="196.5" x2="679.0" y2="196.5" stroke="#333" stroke-width="1"/>
<line x1="672.0" y1="190.5" x2="679.0" y2="190.5" stroke="#333" stroke-width="1"/>
<text x="664.7" y="208.8" font-size="9.3" text-anchor="middle" fill="#000">Z55F</text>
<rect x="497.7" y="15.6" width="185.59999999999997" height="182.3" fill="none" stroke="#555" stroke-width="1"/>
<path d="M497.7 197.9 V213 H683.3 V197.9" fill="none" stroke="#555" stroke-width="0.9"/>
<line x1="534.8" y1="197.9" x2="534.8" y2="213" stroke="#555" stroke-width="0.9"/>
<line x1="571.9" y1="197.9" x2="571.9" y2="213" stroke="#555" stroke-width="0.9"/>
<line x1="609.0" y1="197.9" x2="609.0" y2="213" stroke="#555" stroke-width="0.9"/>
<line x1="646.1" y1="197.9" x2="646.1" y2="213" stroke="#555" stroke-width="0.9"/>
<line x1="497.7" y1="197.5" x2="501.7" y2="197.5" stroke="#555" stroke-width="1"/>
<text x="493.0" y="201.0" font-size="10.3" text-anchor="end" fill="#000">0.0</text>
<line x1="497.7" y1="177.5" x2="500.0" y2="177.5" stroke="#555" stroke-width="1"/>
<line x1="497.7" y1="156.5" x2="501.7" y2="156.5" stroke="#555" stroke-width="1"/>
<text x="493.0" y="159.65" font-size="10.3" text-anchor="end" fill="#000">0.5</text>
<line x1="497.7" y1="135.5" x2="500.0" y2="135.5" stroke="#555" stroke-width="1"/>
<line x1="497.7" y1="115.5" x2="501.7" y2="115.5" stroke="#555" stroke-width="1"/>
<text x="493.0" y="118.3" font-size="10.3" text-anchor="end" fill="#000">1.0</text>
<line x1="497.7" y1="94.5" x2="500.0" y2="94.5" stroke="#555" stroke-width="1"/>
<line x1="497.7" y1="73.5" x2="501.7" y2="73.5" stroke="#555" stroke-width="1"/>
<text x="493.0" y="76.94999999999999" font-size="10.3" text-anchor="end" fill="#000">1.5</text>
<line x1="497.7" y1="53.5" x2="500.0" y2="53.5" stroke="#555" stroke-width="1"/>
<line x1="497.7" y1="32.5" x2="501.7" y2="32.5" stroke="#555" stroke-width="1"/>
<text x="493.0" y="35.6" font-size="10.3" text-anchor="end" fill="#000">2.0</text>
<text transform="translate(472.8 108.0) rotate(-90)" font-size="10.75" text-anchor="middle">Normalized IQRNL (n.u.)</text>
<text x="590.0" y="227.6" font-size="10.7" text-anchor="middle" fill="#000">Dataset</text>
<text x="681" y="26.6" font-size="9.42" text-anchor="end" fill="#000">Selection Criterion (n=3)</text>
<rect x="625.40" y="30.40" width="15.20" height="8.00" fill="#c3c3c8"/>
<text x="644.8" y="37.699999999999996" font-size="9.4" fill="#000">Random</text>
<rect x="625.40" y="42.30" width="15.20" height="8.00" fill="#0f6e5a"/>
<text x="644.8" y="49.599999999999994" font-size="9.4" fill="#000">ΔN-Fit</text>
<rect x="625.40" y="54.20" width="15.20" height="8.00" fill="#f0941e"/>
<text x="644.8" y="61.5" font-size="9.4" fill="#000">ΔO-Fit</text>
<text x="465.4" y="264.8" font-size="12.8" font-weight="bold" fill="#000">c</text>
<rect x="502.50" y="321.47" width="14.10" height="93.93" fill="#0f6e5a"/>
<line x1="509.55" y1="331.59" x2="509.55" y2="298.35499999999996" stroke="#222" stroke-width="0.9"/>
<line x1="506.25" y1="331.59" x2="512.85" y2="331.59" stroke="#222" stroke-width="0.9"/>
<line x1="506.25" y1="298.35499999999996" x2="512.85" y2="298.35499999999996" stroke="#222" stroke-width="0.9"/>
<text transform="translate(513.5 435.2) rotate(-90)" font-size="10" text-anchor="middle">N</text>
<rect x="525.62" y="343.15" width="14.10" height="72.25" fill="#1dbdee"/>
<line x1="532.675" y1="357.59999999999997" x2="532.675" y2="318.585" stroke="#222" stroke-width="0.9"/>
<line x1="529.375" y1="357.59999999999997" x2="535.9749999999999" y2="357.59999999999997" stroke="#222" stroke-width="0.9"/>
<line x1="529.375" y1="318.585" x2="535.9749999999999" y2="318.585" stroke="#222" stroke-width="0.9"/>
<text transform="translate(534.5 435.3) rotate(-90)" font-size="9.8" text-anchor="middle">W<tspan font-size="5.7" dy="2.3">1</tspan></text>
<rect x="548.75" y="335.92" width="14.10" height="79.48" fill="#1dbdee"/>
<line x1="555.8" y1="356.155" x2="555.8" y2="296.90999999999997" stroke="#222" stroke-width="0.9"/>
<line x1="552.5" y1="356.155" x2="559.0999999999999" y2="356.155" stroke="#222" stroke-width="0.9"/>
<line x1="552.5" y1="296.90999999999997" x2="559.0999999999999" y2="296.90999999999997" stroke="#222" stroke-width="0.9"/>
<text transform="translate(557.6 435.3) rotate(-90)" font-size="9.8" text-anchor="middle">W<tspan font-size="5.7" dy="2.3">10</tspan></text>
<rect x="571.88" y="348.93" width="14.10" height="66.47" fill="#1dbdee"/>
<line x1="578.925" y1="404.12899999999996" x2="578.925" y2="296.90999999999997" stroke="#222" stroke-width="0.9"/>
<line x1="575.625" y1="404.12899999999996" x2="582.2249999999999" y2="404.12899999999996" stroke="#222" stroke-width="0.9"/>
<line x1="575.625" y1="296.90999999999997" x2="582.2249999999999" y2="296.90999999999997" stroke="#222" stroke-width="0.9"/>
<text transform="translate(580.8 435.3) rotate(-90)" font-size="9.8" text-anchor="middle">W<tspan font-size="5.7" dy="2.3">100</tspan></text>
<rect x="595.00" y="385.05" width="14.10" height="30.35" fill="#1dbdee"/>
<line x1="602.05" y1="403.84" x2="602.05" y2="343.15" stroke="#222" stroke-width="0.9"/>
<line x1="598.75" y1="403.84" x2="605.3499999999999" y2="403.84" stroke="#222" stroke-width="0.9"/>
<line x1="598.75" y1="343.15" x2="605.3499999999999" y2="343.15" stroke="#222" stroke-width="0.9"/>
<text transform="translate(603.9 435.3) rotate(-90)" font-size="9.8" text-anchor="middle">W<tspan font-size="5.7" dy="2.3">1,000</tspan></text>
<rect x="618.12" y="403.84" width="14.10" height="11.56" fill="#1dbdee"/>
<line x1="625.175" y1="403.84" x2="625.175" y2="393.72499999999997" stroke="#222" stroke-width="0.9"/>
<line x1="621.875" y1="403.84" x2="628.4749999999999" y2="403.84" stroke="#222" stroke-width="0.9"/>
<line x1="621.875" y1="393.72499999999997" x2="628.4749999999999" y2="393.72499999999997" stroke="#222" stroke-width="0.9"/>
<text transform="translate(627.1 435.3) rotate(-90)" font-size="9.8" text-anchor="middle">W<tspan font-size="5.7" dy="2.3">10,000</tspan></text>
<rect x="641.25" y="403.84" width="14.10" height="11.56" fill="#1dbdee"/>
<line x1="648.3" y1="403.84" x2="648.3" y2="393.72499999999997" stroke="#222" stroke-width="0.9"/>
<line x1="645.0" y1="403.84" x2="651.5999999999999" y2="403.84" stroke="#222" stroke-width="0.9"/>
<line x1="645.0" y1="393.72499999999997" x2="651.5999999999999" y2="393.72499999999997" stroke="#222" stroke-width="0.9"/>
<text transform="translate(650.2 435.3) rotate(-90)" font-size="9.8" text-anchor="middle">W<tspan font-size="5.7" dy="2.3">100,000</tspan></text>
<rect x="664.38" y="403.84" width="14.10" height="11.56" fill="#f0941e"/>
<line x1="671.425" y1="403.84" x2="671.425" y2="393.72499999999997" stroke="#222" stroke-width="0.9"/>
<line x1="668.125" y1="403.84" x2="674.7249999999999" y2="403.84" stroke="#222" stroke-width="0.9"/>
<line x1="668.125" y1="393.72499999999997" x2="674.7249999999999" y2="393.72499999999997" stroke="#222" stroke-width="0.9"/>
<text transform="translate(676.3 435.2) rotate(-90)" font-size="10" text-anchor="middle">O</text>
<rect x="497.9" y="256.5" width="185.39999999999998" height="158.89999999999998" fill="none" stroke="#555" stroke-width="1"/>
<path d="M497.9 415.4 V453.3 H683.3 V415.4" fill="none" stroke="#555" stroke-width="0.9"/>
<line x1="521.125" y1="415.4" x2="521.125" y2="453.3" stroke="#555" stroke-width="0.9"/>
<line x1="544.25" y1="415.4" x2="544.25" y2="453.3" stroke="#555" stroke-width="0.9"/>
<line x1="567.375" y1="415.4" x2="567.375" y2="453.3" stroke="#555" stroke-width="0.9"/>
<line x1="590.5" y1="415.4" x2="590.5" y2="453.3" stroke="#555" stroke-width="0.9"/>
<line x1="613.625" y1="415.4" x2="613.625" y2="453.3" stroke="#555" stroke-width="0.9"/>
<line x1="636.75" y1="415.4" x2="636.75" y2="453.3" stroke="#555" stroke-width="0.9"/>
<line x1="659.875" y1="415.4" x2="659.875" y2="453.3" stroke="#555" stroke-width="0.9"/>
<line x1="497.9" y1="415.5" x2="501.9" y2="415.5" stroke="#555" stroke-width="1"/>
<text x="492.6" y="419.29999999999995" font-size="10.1" text-anchor="end" fill="#000">0.0</text>
<line x1="497.9" y1="379.5" x2="500.2" y2="379.5" stroke="#555" stroke-width="1"/>
<line x1="497.9" y1="343.5" x2="501.9" y2="343.5" stroke="#555" stroke-width="1"/>
<text x="492.6" y="347.04999999999995" font-size="10.1" text-anchor="end" fill="#000">0.5</text>
<line x1="497.9" y1="307.5" x2="500.2" y2="307.5" stroke="#555" stroke-width="1"/>
<line x1="497.9" y1="270.5" x2="501.9" y2="270.5" stroke="#555" stroke-width="1"/>
<text x="492.6" y="274.79999999999995" font-size="10.1" text-anchor="end" fill="#000">1.0</text>
<text transform="translate(472.8 338.0) rotate(-90)" font-size="10.8" text-anchor="middle">Normalized IQRNL (n.u.)</text>
<text x="592.0" y="469.7" font-size="10.9" text-anchor="middle" fill="#000">Selection Criterion (n=3)</text>
</svg>
</body></html>
